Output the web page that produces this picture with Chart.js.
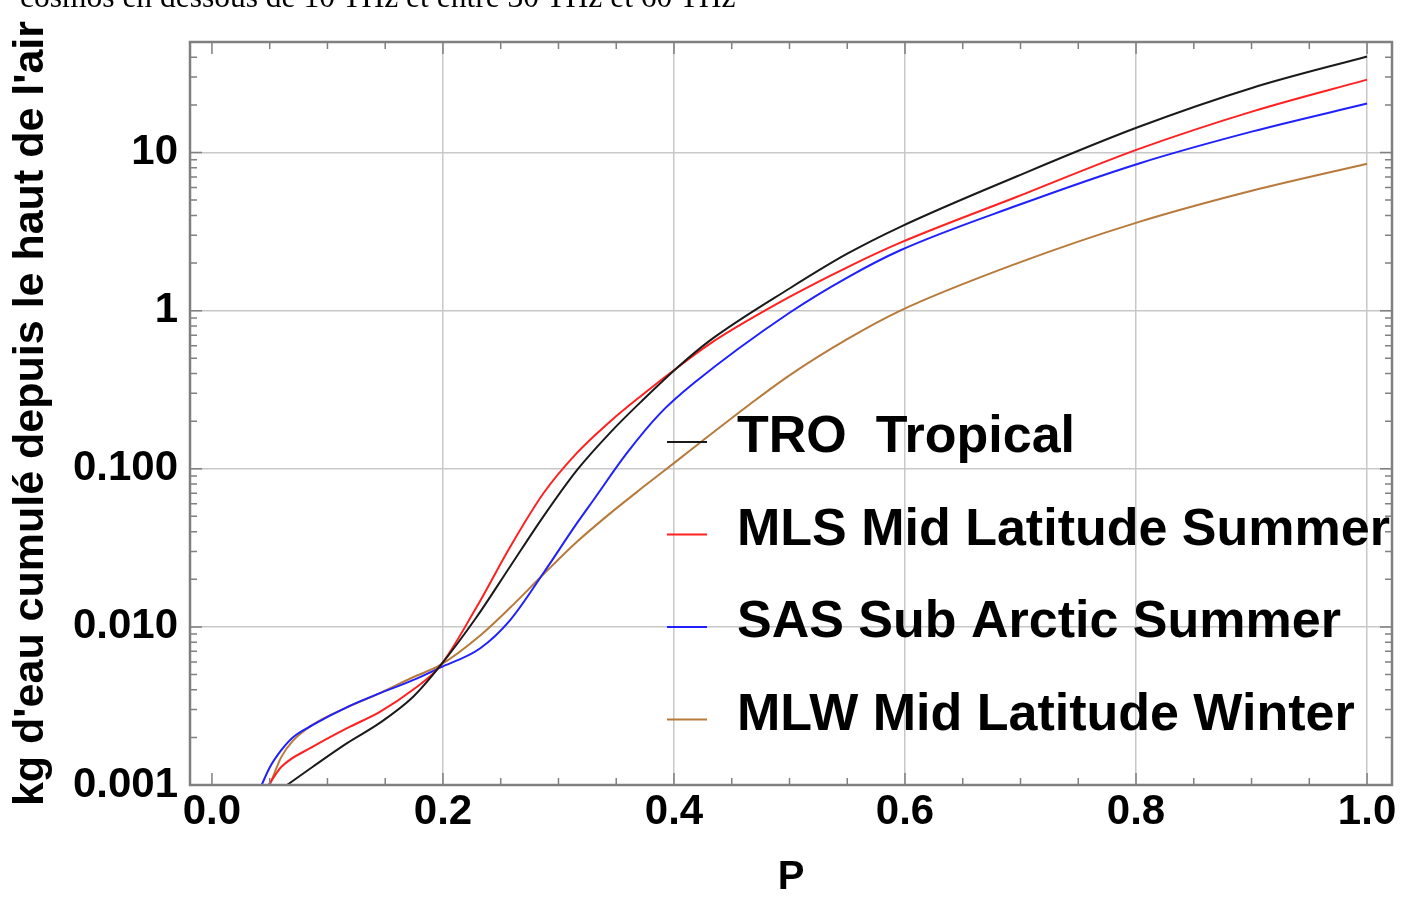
<!DOCTYPE html>
<html>
<head>
<meta charset="utf-8">
<script src="https://cdn.jsdelivr.net/npm/chart.js@4.4.1/dist/chart.umd.min.js"></script>
<style>
  html, body { margin: 0; padding: 0; background: #fff; overflow: hidden; }
  #wrap { position: relative; width: 1416px; height: 905px; }
  #topline {
    position: absolute; left: 20px; top: -19px;
    font: 31.5px "Liberation Serif", "Times New Roman", serif;
    line-height: 31px; color: #000; white-space: nowrap;
  }
</style>
</head>
<body>
<div id="wrap">
  <canvas id="chart" width="1416" height="905"></canvas>
  <div id="topline">cosmos en dessous de 10 THz et entre 30 THz et 60 THz</div>
</div>
<script>
// profils de vapeur d'eau cumulée
const troP   = [0.065, 0.087, 0.117, 0.145, 0.174, 0.197, 0.229, 0.258, 0.287, 0.316, 0.345, 0.373, 0.403, 0.431, 0.5, 0.55, 0.596, 0.697, 0.802, 0.901, 1.0];
const troVal = [0.001, 0.0013, 0.00184, 0.00246, 0.0036, 0.0056, 0.0115, 0.024, 0.050, 0.098, 0.17, 0.272, 0.437, 0.646, 1.38, 2.29, 3.39, 7.08, 14.5, 25.7, 40.5];

const mlsP   = [0.049, 0.06, 0.087, 0.117, 0.145, 0.174, 0.197, 0.229, 0.258, 0.287, 0.316, 0.345, 0.373, 0.403, 0.431, 0.5, 0.55, 0.596, 0.697, 0.802, 0.901, 1.0];
const mlsVal = [0.001, 0.0013, 0.00174, 0.00229, 0.00289, 0.004, 0.0056, 0.0133, 0.0319, 0.070, 0.126, 0.20, 0.295, 0.437, 0.617, 1.22, 1.88, 2.69, 5.25, 10.5, 18.2, 28.9];

const sasP   = [0.043, 0.05, 0.06, 0.07, 0.087, 0.117, 0.145, 0.174, 0.197, 0.232, 0.258, 0.287, 0.316, 0.33, 0.359, 0.388, 0.417, 0.5, 0.55, 0.596, 0.697, 0.802, 0.901, 1.0];
const sasVal = [0.001, 0.00129, 0.00166, 0.002, 0.00239, 0.00311, 0.0038, 0.0046, 0.0055, 0.0073, 0.011, 0.0219, 0.0453, 0.063, 0.125, 0.224, 0.347, 0.97, 1.62, 2.41, 4.62, 8.5, 13.6, 20.4];

const mlwP   = [0.05, 0.06, 0.07, 0.087, 0.117, 0.145, 0.174, 0.197, 0.232, 0.258, 0.287, 0.316, 0.345, 0.373, 0.403, 0.425, 0.466, 0.5, 0.55, 0.596, 0.697, 0.802, 0.901, 1.0];
const mlwVal = [0.001, 0.0015, 0.0019, 0.0024, 0.0031, 0.0038, 0.0048, 0.0057, 0.0088, 0.0132, 0.0215, 0.0345, 0.0524, 0.0763, 0.113, 0.151, 0.257, 0.39, 0.66, 1.0, 1.99, 3.63, 5.75, 8.5];

const seriesNames  = ["TRO  Tropical", "MLS Mid Latitude Summer", "SAS Sub Arctic Summer", "MLW Mid Latitude Winter"];
const seriesColors = ["#1a1a1a", "#ff2020", "#2020ff", "#b87a3a"];

const xTickVals   = [0, 0.2, 0.4, 0.6, 0.8, 1.0];
const yTickVals   = [0.001, 0.01, 0.1, 1, 10];
const yTickLabels = ["0.001", "0.010", "0.100", "1", "10"];

const FONT = '"Liberation Sans", Arial, sans-serif';

function toPoints(xs, ys) {
  return xs.map((p, i) => ({ x: p, y: ys[i] }));
}

const allP   = [troP, mlsP, sasP, mlwP];
const allVal = [troVal, mlsVal, sasVal, mlwVal];

const datasets = seriesNames.map((name, i) => ({
  label: name,
  data: toPoints(allP[i], allVal[i]),
  borderColor: seriesColors[i],
  borderWidth: 2,
  pointRadius: 0,
  fill: false,
  cubicInterpolationMode: "monotone",
}));

// cadre gris avec petites graduations vers l'intérieur + légende dans le graphe
const framePlugin = {
  id: "frame",
  afterDraw(chart) {
    const { ctx, chartArea: a, scales } = chart;
    const x = scales.x, y = scales.y;
    ctx.save();
    ctx.strokeStyle = "#808080";
    ctx.lineWidth = 1.5;
    ctx.beginPath();
    for (let i = 0; i <= 20; i++) {
      const px = x.getPixelForValue(i * 0.05);
      const len = i % 4 === 0 ? 12 : 7;
      ctx.moveTo(px, a.bottom); ctx.lineTo(px, a.bottom - len);
      ctx.moveTo(px, a.top); ctx.lineTo(px, a.top + len);
    }
    for (let d = -3; d <= 1; d++) {
      for (let m = 1; m <= 9; m++) {
        const v = m * Math.pow(10, d);
        if (v > 50) break;
        const py = y.getPixelForValue(v);
        const len = m === 1 ? 12 : 7;
        ctx.moveTo(a.left, py); ctx.lineTo(a.left + len, py);
        ctx.moveTo(a.right, py); ctx.lineTo(a.right - len, py);
      }
    }
    ctx.stroke();
    ctx.lineWidth = 2.5;
    ctx.strokeRect(a.left, a.top, a.right - a.left, a.bottom - a.top);

    // légende
    ctx.font = "bold 52px " + FONT;
    ctx.textBaseline = "alphabetic";
    ctx.textAlign = "left";
    seriesNames.forEach((name, i) => {
      const base = 452 + i * 92.5;
      ctx.strokeStyle = seriesColors[i];
      ctx.lineWidth = 2;
      ctx.beginPath();
      ctx.moveTo(667, base - 10);
      ctx.lineTo(707, base - 10);
      ctx.stroke();
      ctx.fillStyle = "#000";
      ctx.fillText(name, 737, base);
    });
    ctx.restore();
  },
};

new Chart(document.getElementById("chart"), {
  type: "line",
  data: { datasets: datasets },
  options: {
    responsive: false,
    animation: false,
    layout: { padding: { top: 42, right: 24, left: 0, bottom: 0 } },
    plugins: { legend: { display: false }, tooltip: { enabled: false } },
    scales: {
      x: {
        type: "linear",
        min: -0.019,
        max: 1.0216,
        afterBuildTicks: (s) => { s.ticks = xTickVals.map((v) => ({ value: v })); },
        afterFit: (s) => { s.height = 120; },
        border: { display: false },
        grid: {
          color: (c) => (c.tick && c.tick.value === 0 ? "rgba(0,0,0,0)" : "#c8c8c8"),
          lineWidth: 1.5,
          drawTicks: false,
        },
        ticks: {
          callback: (v) => Number(v).toFixed(1),
          font: { family: FONT, size: 42, weight: "bold" },
          color: "#000",
          padding: 2,
          maxRotation: 0,
          autoSkip: false,
        },
        title: {
          display: true,
          text: "P",
          font: { family: FONT, size: 40, weight: "bold" },
          color: "#000",
          padding: { top: 0, bottom: 3 },
        },
      },
      y: {
        type: "logarithmic",
        min: 0.001,
        max: 50,
        afterBuildTicks: (s) => { s.ticks = yTickVals.map((v) => ({ value: v, major: true })); },
        afterFit: (s) => { s.width = 190; },
        border: { display: false },
        grid: { color: "#c8c8c8", lineWidth: 1.5, drawTicks: false },
        ticks: {
          callback: (v) => {
            const i = yTickVals.findIndex((t) => Math.abs(t - v) / t < 1e-6);
            return i >= 0 ? yTickLabels[i] : "";
          },
          font: { family: FONT, size: 42, weight: "bold" },
          color: "#000",
          padding: 12,
          autoSkip: false,
        },
        title: {
          display: true,
          text: "kg d'eau cumulé depuis le haut de l'air",
          font: { family: FONT, size: 43, weight: "bold" },
          color: "#000",
          padding: { top: 5, bottom: 0 },
        },
      },
    },
  },
  plugins: [framePlugin],
});
</script>
</body>
</html>
